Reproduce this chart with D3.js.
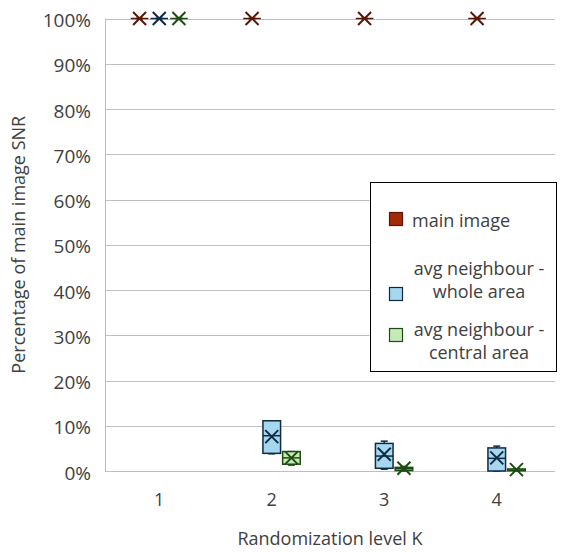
<!DOCTYPE html>
<html>
<head>
<meta charset="utf-8">
<script src="https://cdn.jsdelivr.net/npm/d3@7.9.0/dist/d3.min.js"></script>
<style>
  body { margin: 0; background: #fff; }
  text { font-family: "Open Sans", sans-serif; fill: #404040; }
</style>
</head>
<body>
<svg id="chart" width="565" height="552"></svg>
<script>
// values, in percent: [min, q1, median, q3, max, mean]
const categories = ['1', '2', '3', '4'];
const seriesNames = ['main', 'whole', 'central'];

const mainImage = [
  [100, 100, 100, 100, 100, 100],
  [100, 100, 100, 100, 100, 100],
  [100, 100, 100, 100, 100, 100],
  [100, 100, 100, 100, 100, 100]
];
const wholeArea = [
  [100, 100, 100, 100, 100, 100],
  [3.8, 3.9, 7.8, 11.1, 11.1, 7.6],
  [0.4, 0.6, 3.3, 6.1, 6.6, 3.7],
  [0, 0, 2.8, 5.1, 5.5, 2.9]
];
const centralArea = [
  [100, 100, 100, 100, 100, 100],
  [1.3, 1.5, 2.9, 4.3, 4.3, 2.9],
  [0, 0.1, 0.5, 0.8, 1.0, 0.6],
  [0, 0.05, 0.2, 0.45, 0.5, 0.3]
];
const yTicks = [0, 10, 20, 30, 40, 50, 60, 70, 80, 90, 100];
const legendLines = [['main image'], ['avg neighbour -', 'whole area'], ['avg neighbour -', 'central area']];

const fills = { main: '#a32a06', whole: '#a5d8f0', central: '#c6e9b5' };
const strokes = { main: '#5a1607', whole: '#0f2a42', central: '#1d4d12' };
const seriesData = { main: mainImage, whole: wholeArea, central: centralArea };

const svg = d3.select('#chart');

const x = d3.scaleBand().domain(categories).range([103, 553]);
const xSub = d3.scaleBand().domain(seriesNames).range([-28.5, 28.5]).paddingInner(0.105);
const y = d3.scaleLinear().domain([0, 100]).range([471, 18.5]);

// gridlines
svg.append('g')
  .selectAll('line')
  .data(yTicks)
  .join('line')
  .attr('x1', 105).attr('x2', 555)
  .attr('y1', d => Math.round(y(d)) + 0.5).attr('y2', d => Math.round(y(d)) + 0.5)
  .attr('stroke', '#bfbfbf');

svg.append('line')
  .attr('x1', 105.5).attr('x2', 105.5)
  .attr('y1', y(100)).attr('y2', y(0) + 0.5)
  .attr('stroke', '#bfbfbf');

// y tick labels
svg.append('g')
  .selectAll('text')
  .data(yTicks)
  .join('text')
  .attr('x', 91)
  .attr('y', d => y(d) + 2)
  .attr('dy', '0.35em')
  .attr('text-anchor', 'end')
  .attr('font-size', 19)
  .text(d => d + '%');

// x tick labels
svg.append('g')
  .selectAll('text')
  .data(categories)
  .join('text')
  .attr('x', d => x(d) + x.bandwidth() / 2)
  .attr('y', 506)
  .attr('text-anchor', 'middle')
  .attr('font-size', 18)
  .text(d => d);

svg.append('text')
  .attr('x', 330).attr('y', 545)
  .attr('text-anchor', 'middle')
  .attr('font-size', 18)
  .text('Randomization level K');

svg.append('text')
  .attr('transform', `translate(25,${(y(0) + y(100)) / 2}) rotate(-90)`)
  .attr('text-anchor', 'middle')
  .attr('font-size', 18)
  .text('Percentage of main image SNR');

// boxes
const bw = xSub.bandwidth();
seriesNames.forEach(s => {
  const g = svg.append('g');
  seriesData[s].forEach((v, i) => {
    const [mn, q1, med, q3, mx, mean] = v;
    const cx = x(categories[i]) + x.bandwidth() / 2 + xSub(s) + bw / 2;
    const col = strokes[s];
    // whiskers
    g.append('line').attr('x1', cx).attr('x2', cx).attr('y1', y(q3)).attr('y2', y(mx))
      .attr('stroke', col).attr('stroke-width', 1.5);
    g.append('line').attr('x1', cx).attr('x2', cx).attr('y1', y(q1)).attr('y2', y(mn))
      .attr('stroke', col).attr('stroke-width', 1.5);
    [mn, mx].forEach(w => {
      g.append('line').attr('x1', cx - 3.5).attr('x2', cx + 3.5).attr('y1', y(w)).attr('y2', y(w))
        .attr('stroke', col).attr('stroke-width', 1.5);
    });
    g.append('rect')
      .attr('x', cx - bw / 2).attr('width', bw)
      .attr('y', y(q3)).attr('height', Math.max(0, y(q1) - y(q3)))
      .attr('fill', fills[s]).attr('stroke', col).attr('stroke-width', 1.5);
    g.append('line').attr('x1', cx - bw / 2).attr('x2', cx + bw / 2)
      .attr('y1', y(med)).attr('y2', y(med))
      .attr('stroke', col).attr('stroke-width', 1.5);
    // mean marker
    const my = y(mean), r = 6.5;
    g.append('path')
      .attr('d', `M${cx - r},${my - r}L${cx + r},${my + r}M${cx - r},${my + r}L${cx + r},${my - r}`)
      .attr('stroke', col).attr('stroke-width', 2).attr('fill', 'none');
  });
});

// legend
const lg = svg.append('g');
lg.append('rect')
  .attr('x', 370.5).attr('y', 182.5).attr('width', 186).attr('height', 189)
  .attr('fill', '#fff').attr('stroke', '#000').attr('stroke-width', 1);

const swatchY = [212, 287, 328];
const textY = [[227], [275, 298], [336, 359]];
seriesNames.forEach((s, i) => {
  lg.append('rect')
    .attr('x', 389.5).attr('y', swatchY[i] + 0.5).attr('width', 13).attr('height', 13)
    .attr('fill', fills[s]).attr('stroke', strokes[s]).attr('stroke-width', 1.2);
  legendLines[i].forEach((t, j) => {
    const single = legendLines[i].length === 1;
    lg.append('text')
      .attr('x', single ? 412 : 479)
      .attr('y', textY[i][j])
      .attr('text-anchor', single ? 'start' : 'middle')
      .attr('font-size', 18)
      .text(t);
  });
});
</script>
</body>
</html>
